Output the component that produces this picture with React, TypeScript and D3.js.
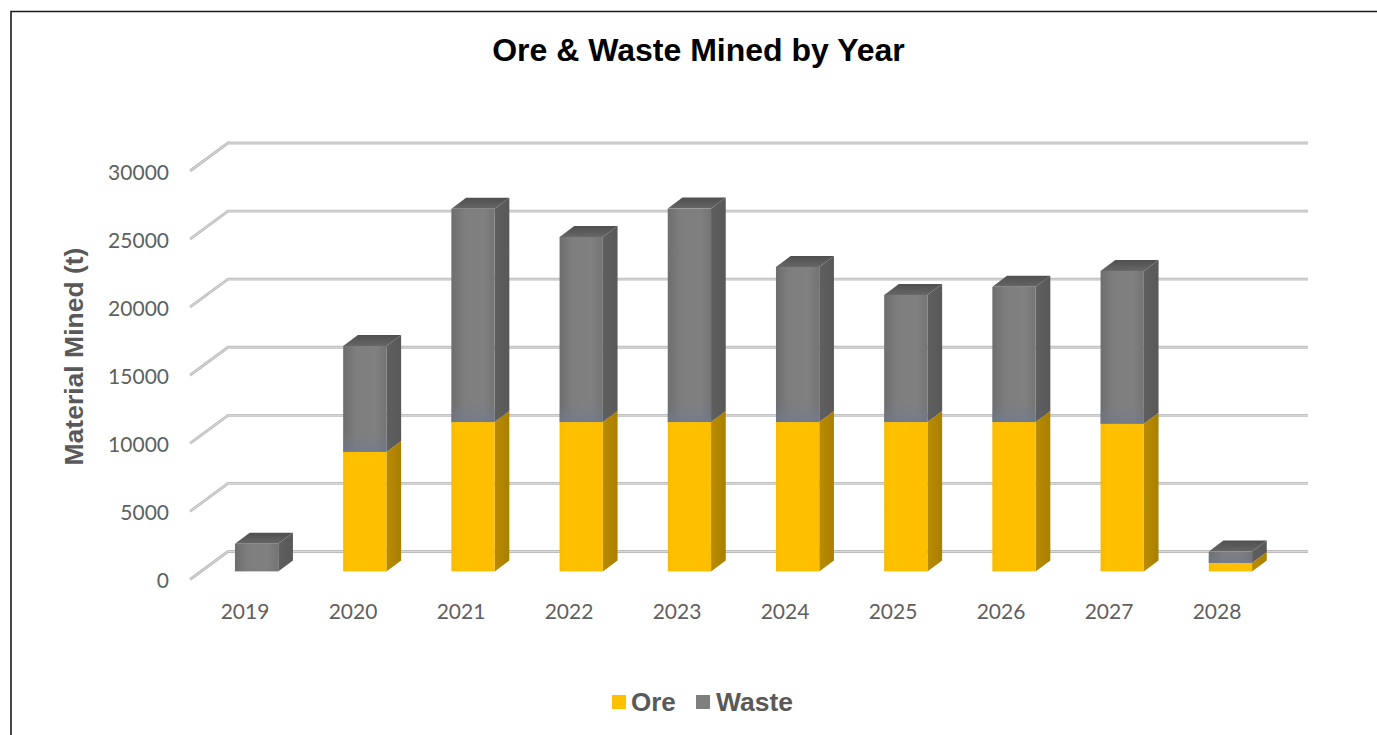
import React from "react";
import * as d3 from "d3";

const years = ["2019", "2020", "2021", "2022", "2023", "2024", "2025", "2026", "2027", "2028"];
const ore = [0, 8760, 10950, 10950, 10950, 10950, 10950, 10950, 10820, 620];
const waste = [2020, 7770, 15630, 13570, 15650, 11370, 9320, 9910, 11210, 830];
const yTicks = [0, 5000, 10000, 15000, 20000, 25000, 30000];

const WIDTH = 1377;
const HEIGHT = 735;
const LABEL_FONT = "Lato, 'Open Sans', sans-serif";
const HEAD_FONT = "'Liberation Sans', Arial, sans-serif";

// Oblique projection: floor front edge, wall offset and bar placement inside the floor.
const floorLeft = 190;
const floorRight = 1270;
const wallDx = 38;
const wallDy = -28;
const barInsetX = 12;
const barDepthX = 14.7;
const barDepthY = -11;
const barBaseY = 571.4;
const jointTint = 20;

const frontY = d3.scaleLinear().domain([0, 30000]).range([579.5, 171]);
const barHeight = d3.scaleLinear().domain([0, 30000]).range([0, 409.2]);
const tickX = d3.scaleBand().domain(years).range([floorLeft + 1, floorRight + 1]);
const barX = d3
  .scaleBand()
  .domain(years)
  .range([floorLeft + barInsetX + 0.5, floorRight + barInsetX + 2.5])
  .paddingInner(0.6)
  .paddingOuter(0.3);

const poly = d3.line<[number, number]>();

type Tones = { front: string; side: string; top: string };
const oreTones: Tones = { front: "url(#oreFront)", side: "url(#oreSide)", top: "#B08500" };
const wasteTones: Tones = { front: "url(#wasteFront)", side: "url(#wasteSide)", top: "url(#wasteTop)" };

function Block({ x, w, y0, y1, tones, lid }: { x: number; w: number; y0: number; y1: number; tones: Tones; lid: boolean }) {
  const right = x + w;
  const side: [number, number][] = [
    [right, y0],
    [right + barDepthX, y0 + barDepthY],
    [right + barDepthX, y1 + barDepthY],
    [right, y1],
  ];
  const top: [number, number][] = [
    [x, y1],
    [x + barDepthX, y1 + barDepthY],
    [right + barDepthX, y1 + barDepthY],
    [right, y1],
  ];
  return (
    <g>
      <path d={poly(side) + "Z"} fill={tones.side} />
      {lid && <path d={poly(top) + "Z"} fill={tones.top} />}
      <rect x={x} y={y1} width={w} height={y0 - y1} fill={tones.front} />
    </g>
  );
}

export default function App() {
  const w = barX.bandwidth();
  return (
    <svg
      width={WIDTH}
      height={HEIGHT}
      viewBox={`0 0 ${WIDTH} ${HEIGHT}`}
      style={{ position: "fixed", left: 0, top: 0, display: "block", background: "#fff" }}
    >
      <defs>
        <linearGradient id="oreFront" x1="0" y1="0" x2="1" y2="0">
          <stop offset="0" stopColor="#F7BB00" />
          <stop offset="0.15" stopColor="#FFC000" />
          <stop offset="1" stopColor="#FDBF00" />
        </linearGradient>
        <linearGradient id="oreSide" x1="0" y1="0" x2="1" y2="0">
          <stop offset="0" stopColor="#B98B00" />
          <stop offset="1" stopColor="#A88000" />
        </linearGradient>
        <linearGradient id="wasteFront" x1="0" y1="0" x2="1" y2="0">
          <stop offset="0" stopColor="#6E6E6E" />
          <stop offset="0.3" stopColor="#7E7E7E" />
          <stop offset="0.75" stopColor="#808080" />
          <stop offset="1" stopColor="#747474" />
        </linearGradient>
        <linearGradient id="wasteSide" x1="0" y1="0" x2="1" y2="0">
          <stop offset="0" stopColor="#5F5F5F" />
          <stop offset="1" stopColor="#585858" />
        </linearGradient>
        <linearGradient id="wasteTop" x1="0" y1="1" x2="0" y2="0">
          <stop offset="0" stopColor="#666666" />
          <stop offset="1" stopColor="#4F4F4F" />
        </linearGradient>
        <linearGradient id="joint" x1="0" y1="0" x2="0" y2="1">
          <stop offset="0" stopColor="#6F7A90" stopOpacity="0" />
          <stop offset="1" stopColor="#6F7A90" stopOpacity="0.65" />
        </linearGradient>
      </defs>

      {/* chart frame, running off the right and bottom edges */}
      <path d={`M11 ${HEIGHT}V11.5H${WIDTH}`} fill="none" stroke="#1a1a1a" strokeWidth={1.6} />

      <text x={698.5} y={61} textAnchor="middle" fontFamily={HEAD_FONT} fontWeight={700} fontSize={32} fill="#000">
        Ore &amp; Waste Mined by Year
      </text>

      {/* floor-and-wall gridlines, a dark casing under a lighter core */}
      {yTicks.map((t) => {
        const y = frontY(t);
        const d = `M${floorLeft} ${y}L${floorLeft + wallDx} ${y + wallDy}H${floorRight + wallDx}`;
        return (
          <g key={t} fill="none">
            <path d={d} stroke="#BDBDBD" strokeWidth={2.8} />
            <path d={d} stroke="#DADADA" strokeWidth={1} />
          </g>
        );
      })}

      {/* value axis labels */}
      {yTicks.map((t) => (
        <text key={t} x={169} y={frontY(t) + 8.5} textAnchor="end" fontFamily={LABEL_FONT} fontSize={21} fill="#5F5F5F">
          {t}
        </text>
      ))}

      {/* stacked bars */}
      {years.map((yr, i) => {
        const x = barX(yr) as number;
        const oreTop = barBaseY - barHeight(ore[i]);
        const wasteTop = oreTop - barHeight(waste[i]);
        const tint = Math.min(jointTint, oreTop - wasteTop);
        return (
          <g key={yr}>
            {ore[i] > 0 && <Block x={x} w={w} y0={barBaseY} y1={oreTop} tones={oreTones} lid={false} />}
            <Block x={x} w={w} y0={oreTop} y1={wasteTop} tones={wasteTones} lid />
            {ore[i] > 0 && <rect x={x} y={oreTop - tint} width={w} height={tint} fill="url(#joint)" />}
          </g>
        );
      })}

      {/* category labels */}
      {years.map((yr) => (
        <text
          key={yr}
          x={(tickX(yr) as number) + tickX.bandwidth() / 2}
          y={619}
          textAnchor="middle"
          fontFamily={LABEL_FONT}
          fontSize={21}
          fill="#5F5F5F"
        >
          {yr}
        </text>
      ))}

      <text
        transform="translate(83,356.5) rotate(-90)"
        textAnchor="middle"
        fontFamily={HEAD_FONT}
        fontWeight={700}
        fontSize={26.5}
        fill="#595959"
      >
        Material Mined (t)
      </text>

      {/* legend */}
      <rect x={612} y={695} width={14} height={14} fill="#FFC000" />
      <text x={631} y={711} fontFamily={HEAD_FONT} fontWeight={700} fontSize={26} fill="#595959">
        Ore
      </text>
      <rect x={696} y={695} width={14} height={14} fill="#7F7F7F" />
      <text x={716} y={711} fontFamily={HEAD_FONT} fontWeight={700} fontSize={26.5} fill="#595959">
        Waste
      </text>
    </svg>
  );
}
